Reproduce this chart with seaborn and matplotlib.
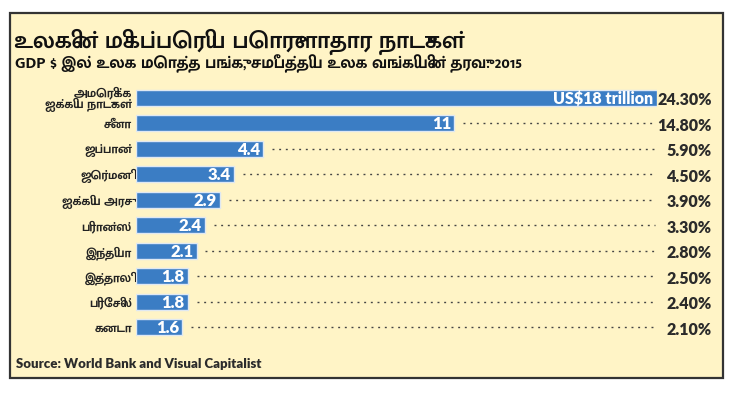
import unicodedata
import matplotlib
matplotlib.use("Agg")
import matplotlib.pyplot as plt
import matplotlib.transforms as mtransforms
from matplotlib.patches import Rectangle
import seaborn as sns
import pandas as pd

# data
countries = [
    "அமெரிக்க\nஐக்கிய நாடுகள்", "சீனா", "ஜப்பான்", "ஜெர்மனி", "ஐக்கிய அரசு",
    "பிரான்ஸ்", "இந்தியா", "இத்தாலி", "பிரேசில்", "கனடா",
]
gdp_trillion = [18, 11, 4.4, 3.4, 2.9, 2.4, 2.1, 1.8, 1.8, 1.6]
bar_labels = ["US$18 trillion", "11", "4.4", "3.4", "2.9", "2.4", "2.1", "1.8", "1.8", "1.6"]
world_share = ["24.30%", "14.80%", "5.90%", "4.50%", "3.90%", "3.30%", "2.80%", "2.50%", "2.40%", "2.10%"]

TITLE = "உலகின் மிகப்பெரிய பொருளாதார நாடுகள்"
SUBTITLE = "GDP $ இல் உலக மொத்த பங்கு, சமீபத்திய உலக வங்கியின் தரவு: 2015"
SOURCE = "Source: World Bank and Visual Capitalist"

BG = "#FFF4C6"
BLUE = "#3B7DC4"
DARK = "#2b2b2b"


def nfd(s):
    # split two-part vowel signs so fonts without shaping still draw them
    return unicodedata.normalize("NFD", s)


sns.set_theme(style="white")
TAMIL = ["Mukta Malar", "Noto Sans Tamil", "DejaVu Sans"]
LATIN = ["Lato", "DejaVu Sans"]
plt.rcParams["font.family"] = TAMIL

df = pd.DataFrame({"country": [nfd(c) for c in countries], "gdp": gdp_trillion})

W, H = 733, 393
fig = plt.figure(figsize=(W / 100, H / 100), dpi=100)
fig.patch.set_facecolor("white")

# yellow panel with dark frame
fig.patches.append(Rectangle((10 / W, 1 - 378 / H), 713 / W, 365 / H,
                             transform=fig.transFigure, facecolor=BG,
                             edgecolor="#333333", linewidth=1.6, zorder=-5))

ax = fig.add_axes([136 / W, 1 - 340 / H, (657 - 136) / W, (340 - 85) / H])
ax.set_facecolor("none")
ax.set_zorder(2)

sns.barplot(data=df, x="gdp", y="country", orient="h", color=BLUE,
            width=0.63, edgecolor="#dfe8f2", linewidth=1.0, saturation=1, ax=ax)

ax.set_xlim(0, 18)
ax.set_ylim(len(countries) - 0.5, -0.5)
ax.set_xlabel("")
ax.set_ylabel("")
ax.set_xticks([])
for s in ax.spines.values():
    s.set_visible(False)
ax.tick_params(axis="y", length=0, pad=3)
for lab in ax.get_yticklabels():
    lab.set_fontsize(9)
    lab.set_fontweight("bold")
    lab.set_color("#222222")
    lab.set_linespacing(0.9)

share_tf = mtransforms.blended_transform_factory(fig.transFigure, ax.transData)
for i, (v, bl, sh) in enumerate(zip(gdp_trillion, bar_labels, world_share)):
    ax.text(v - 0.12, i + 0.03, bl, ha="right", va="center", color="white",
            fontsize=12 if i else 11.5, fontweight="heavy", family=LATIN)
    if i > 0:
        ax.plot([v + 0.3, 17.93], [i, i], color="#444444", lw=1.0,
                linestyle=(0, (1.4, 3.4)))
    ax.text(712 / W, i + 0.1, sh, ha="right", va="center", color=DARK,
            fontsize=11.5, fontweight="heavy", family=LATIN, transform=share_tf,
            clip_on=False)

fig.text(14 / W, 1 - 42 / H, nfd(TITLE), ha="left", va="center", fontsize=17.5,
         fontweight="semibold", color="#111111", family=TAMIL)
fig.text(15 / W, 1 - 64 / H, nfd(SUBTITLE), ha="left", va="center", fontsize=12,
         fontweight="bold", color="#111111", family=TAMIL)
fig.text(16 / W, 1 - 364 / H, SOURCE, ha="left", va="center", fontsize=9.5,
         fontweight="heavy", color=DARK, family=LATIN)

fig.savefig("out.png", dpi=100, facecolor=fig.get_facecolor())
